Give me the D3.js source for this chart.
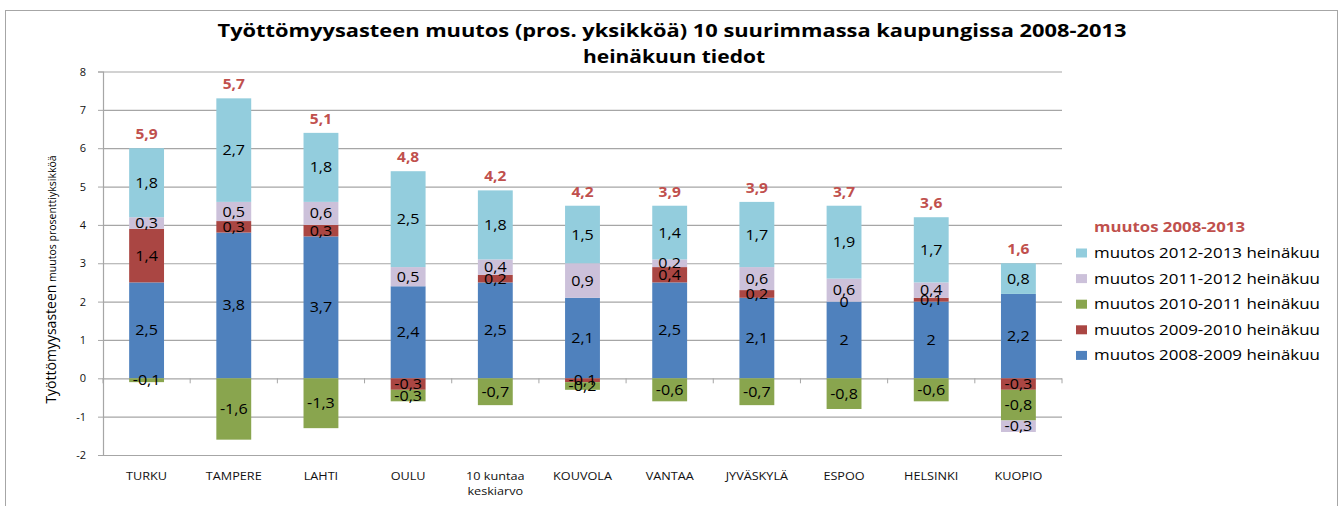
<!DOCTYPE html>
<html><head><meta charset="utf-8">
<script src="https://cdn.jsdelivr.net/npm/d3@7"></script>
<style>body{margin:0;background:#fff} text{font-family:"Open Sans",sans-serif}</style>
</head><body><svg id="c" width="1343" height="506"></svg>
<script>
const categories = ["TURKU","TAMPERE","LAHTI","OULU","10 kuntaa keskiarvo","KOUVOLA","VANTAA","JYVÄSKYLÄ","ESPOO","HELSINKI","KUOPIO"];
const seriesNames = ["muutos 2008-2009 heinäkuu","muutos 2009-2010 heinäkuu","muutos 2010-2011 heinäkuu","muutos 2011-2012 heinäkuu","muutos 2012-2013 heinäkuu"];
const s2008_2009 = [2.5,3.8,3.7,2.4,2.5,2.1,2.5,2.1,2,2,2.2];
const s2009_2010 = [1.4,0.3,0.3,-0.3,0.2,-0.1,0.4,0.2,0,0.1,-0.3];
const s2010_2011 = [-0.1,-1.6,-1.3,-0.3,-0.7,-0.2,-0.6,-0.7,-0.8,-0.6,-0.8];
const s2011_2012 = [0.3,0.5,0.6,0.5,0.4,0.9,0.2,0.6,0.6,0.4,-0.3];
const s2012_2013 = [1.8,2.7,1.8,2.5,1.8,1.5,1.4,1.7,1.9,1.7,0.8];
const total2008_2013 = [5.9,5.7,5.1,4.8,4.2,4.2,3.9,3.9,3.7,3.6,1.6];
const totalName = "muutos 2008-2013";
const yTicks = [-2,-1,0,1,2,3,4,5,6,7,8];
const titleLines = ["Työttömyysasteen muutos (pros. yksikköä) 10 suurimmassa kaupungissa 2008-2013","heinäkuun tiedot"];
const yTitleBig = "Työttömyysasteen";
const yTitleSmall = " muutos prosenttiyksikköä";
const colors = ["#4F81BD","#AA4643","#89A54E","#CCC1DA","#93CDDD"];

const seriesValues = [s2008_2009,s2009_2010,s2010_2011,s2011_2012,s2012_2013];
const rows = categories.map((c,j)=>({cat:c, vals:seriesValues.map(s=>s[j]), total:total2008_2013[j]}));

const svg = d3.select("#c");
const W=1343,H=506;
const plot={l:103,r:1062,t:71.5,b:455};
const STRETCH=1.15;
const loc = d3.formatLocale({decimal:",",thousands:" ",grouping:[3],currency:["","€"],minus:"-"});
const fmt = loc.format(".1~f");

svg.append("rect").attr("width",W).attr("height",H).attr("fill","#fff");
svg.append("rect").attr("x",5.5).attr("y",10.5).attr("width",1332).attr("height",520)
  .attr("fill","none").attr("stroke","#a6a6a6");

const x = d3.scaleBand().domain(categories).range([plot.l,plot.r]).paddingInner(0.6).paddingOuter(0.3);
const y = d3.scaleLinear().domain([-2,8]).range([plot.b,plot.t]);

// gridlines
svg.append("g").attr("transform",`translate(${plot.l},0)`)
  .call(d3.axisLeft(y).tickValues(yTicks).tickSize(-(plot.r-plot.l)).tickFormat(""))
  .call(g=>g.select(".domain").remove())
  .call(g=>g.selectAll("line").attr("stroke","#a6a6a6").attr("stroke-width",1.2));

// y axis
svg.append("g").attr("transform",`translate(${plot.l},0)`)
  .call(d3.axisLeft(y).tickValues(yTicks).tickSize(5).tickPadding(12).tickFormat(d=>fmt(d)))
  .call(g=>g.select(".domain").attr("stroke","#a6a6a6").attr("stroke-width",1.2))
  .call(g=>g.selectAll("line").attr("stroke","#a6a6a6"))
  .call(g=>g.selectAll("text").attr("font-size",11).attr("fill","#111").attr("font-family","Open Sans"));

// category boundary ticks on zero line
const gap = x.step()-x.bandwidth();
const bounds = categories.map(c=>x(c)-gap/2).concat([x(categories[categories.length-1])+x.bandwidth()+gap/2]);
svg.append("g").selectAll("line").data(bounds).join("line")
  .attr("x1",d=>d).attr("x2",d=>d).attr("y1",y(0)).attr("y2",y(0)+5).attr("stroke","#a6a6a6");

// stack
const stack = d3.stack().keys(d3.range(seriesValues.length)).value((d,k)=>d.vals[k]).offset(d3.stackOffsetDiverging);
const stacked = stack(rows);
// zero values sit at the current positive top
rows.forEach((r,j)=>{
  for(let i=0;i<stacked.length;i++){
    if(r.vals[i]===0){
      let top=0;
      for(let k=0;k<i;k++) if(r.vals[k]>0) top=Math.max(top,stacked[k][j][1]);
      stacked[i][j][0]=top; stacked[i][j][1]=top;
    }
  }
});

const gs = svg.append("g").selectAll("g").data(stacked).join("g").attr("fill",(d,i)=>colors[i]);
gs.selectAll("rect").data(d=>d).join("rect")
  .attr("x",d=>x(d.data.cat)).attr("width",x.bandwidth())
  .attr("y",d=>y(Math.max(d[0],d[1]))).attr("height",d=>Math.abs(y(d[0])-y(d[1])));

// data labels
const lab = svg.append("g");
stacked.forEach((s,i)=>{
  lab.selectAll(null).data(s).join("text").attr("class","st")
    .attr("x",d=>x(d.data.cat)+x.bandwidth()/2)
    .attr("y",d=>y((d[0]+d[1])/2)).attr("dy","0.36em")
    .attr("text-anchor","middle").attr("font-size",14).attr("fill","#000")
    .text(d=>fmt(d.data.vals[i]));
});

// totals
const posTop = rows.map((r,j)=>d3.max(stacked,s=>s[j][1]));
svg.append("g").selectAll("text").data(rows).join("text").attr("class","st")
  .attr("x",d=>x(d.cat)+x.bandwidth()/2)
  .attr("y",(d,j)=>y(posTop[j])-14).attr("dy","0.36em")
  .attr("text-anchor","middle").attr("font-size",13.5).attr("font-weight","bold").attr("fill","#C0504D")
  .text(d=>fmt(d.total));

// x labels
const xl = svg.append("g");
categories.forEach(c=>{
  const parts = c==="10 kuntaa keskiarvo" ? ["10 kuntaa","keskiarvo"] : [c];
  parts.forEach((p,k)=>{
    xl.append("text").attr("class","st").attr("x",x(c)+x.bandwidth()/2).attr("y",476+k*15).attr("dy","0.36em")
      .attr("text-anchor","middle").attr("font-size",11).attr("fill","#111").text(p);
  });
});

// title
svg.append("text").attr("x",672).attr("y",37).attr("text-anchor","middle")
  .attr("font-size",17.5).attr("font-weight","bold").attr("fill","#000")
  .attr("textLength",909).attr("lengthAdjust","spacingAndGlyphs").text(titleLines[0]);
svg.append("text").attr("x",674).attr("y",63).attr("text-anchor","middle")
  .attr("font-size",17.5).attr("font-weight","bold").attr("fill","#000")
  .attr("textLength",182).attr("lengthAdjust","spacingAndGlyphs").text(titleLines[1]);

// y title
const yt = svg.append("text").attr("transform","translate(56,279.5) rotate(-90)").attr("text-anchor","middle").attr("fill","#000");
yt.append("tspan").attr("font-size",14).text(yTitleBig);
yt.append("tspan").attr("font-size",10.5).text(yTitleSmall);

// legend
const lg = svg.append("g");
lg.append("text").attr("x",1094).attr("y",227).attr("dy","0.36em").attr("font-size",13.5).attr("font-weight","bold")
  .attr("fill","#C0504D").attr("textLength",151).attr("lengthAdjust","spacingAndGlyphs").text(totalName);
const order = [4,3,2,1,0];
order.forEach((si,k)=>{
  const cy = 253+k*25.6;
  lg.append("rect").attr("x",1076).attr("y",cy-4.5).attr("width",11).attr("height",9).attr("fill",colors[si]);
  lg.append("text").attr("x",1094).attr("y",cy).attr("dy","0.36em").attr("font-size",14).attr("fill","#000")
    .attr("textLength",226).attr("lengthAdjust","spacingAndGlyphs").text(seriesNames[si]);
});

// horizontal stretch for the remaining texts
svg.selectAll("text.st").each(function(){
  const L=this.getComputedTextLength();
  d3.select(this).attr("textLength",L*STRETCH).attr("lengthAdjust","spacingAndGlyphs");
});
</script></body></html>
